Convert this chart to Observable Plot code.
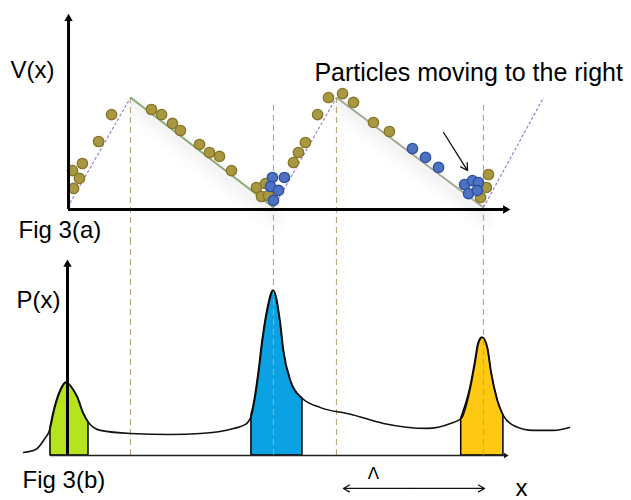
<!DOCTYPE html>
<html><head><meta charset="utf-8">
<script src="https://cdn.jsdelivr.net/npm/d3@7"></script>
<script src="https://cdn.jsdelivr.net/npm/@observablehq/plot@0.6"></script>
<style>
body{margin:0;background:#fff;}
#chart svg{display:block;}
</style>
</head><body><div id="chart"></div>
<script>
// ---------- data (x in units of the period Λ, V and P in arbitrary units) ----------
const potentialX = [0.019, 0.319, 1.000, 1.300, 2.000, 2.286];
const potentialV = [0, 1, 0, 1, 0, 1];
const fallColors = ["#8aab77", "#a2aa96"];

const wellX = [0.319, 1.000, 1.300, 2.000];
const wellTopV = [1.0, 0.93, 1.0, 0.93];

const goldX = [0.048,0.076,0.043,0.090,0.167,0.229,0.419,0.467,0.519,0.557,0.648,0.695,0.743,0.800,
  0.919,0.962,0.943,0.976,1.095,1.119,1.152,1.210,1.262,1.329,1.381,1.476,1.552,2.024,2.014,1.986];
const goldV = [0.173,0.264,0.336,0.400,0.600,0.845,0.891,0.845,0.764,0.700,0.573,0.500,0.464,0.336,
  0.182,0.218,0.100,0.109,0.409,0.500,0.591,0.845,1.000,1.036,0.955,0.773,0.691,0.300,0.182,0.091];
const blueX = [0.995,1.052,0.986,1.024,1.000,1.662,1.724,1.786,1.910,1.948,1.976,1.929,1.971];
const blueV = [0.273,0.273,0.191,0.155,0.064,0.536,0.455,0.364,0.209,0.245,0.227,0.127,0.155];

const densityX = [-0.190,-0.133,-0.095,-0.062,-0.048,-0.014,0.014,0.043,0.067,0.095,0.119,0.176,0.319,0.510,
  0.652,0.810,0.867,0.895,0.910,0.929,0.948,0.971,1.000,1.033,1.048,1.081,1.138,1.224,1.367,1.524,1.733,
  1.843,1.894,1.938,1.962,1.976,1.995,2.019,2.038,2.067,2.095,2.143,2.238,2.333,2.410];
const densityP = [0.018,0.036,0.091,0.170,0.255,0.394,0.442,0.406,0.352,0.255,0.200,0.152,0.133,0.127,
  0.133,0.164,0.188,0.242,0.333,0.497,0.697,0.879,1.000,0.800,0.636,0.455,0.345,0.290,0.250,0.194,0.164,
  0.194,0.224,0.412,0.576,0.679,0.715,0.655,0.497,0.333,0.242,0.182,0.152,0.152,0.170];

const bandLo = [-0.062, 0.895, 1.894];
const bandHi = [0.119, 1.138, 2.095];
const bandColors = ["#b5e31e", "#0aa2e2", "#ffc913"];

const font = "Liberation Sans, Arial, sans-serif";
const xDomain = [-0.300, 2.705];

// ---------- derived tables ----------
const verts = potentialX.map((x, i) => ({x, v: potentialV[i]}));
const segs = verts.slice(1).map((d, i) => ({x1: verts[i].x, y1: verts[i].v, x2: d.x, y2: d.v, rising: d.v > verts[i].v}));
const rising = segs.filter(s => s.rising);
const falling = segs.filter(s => !s.rising).map((s, i) => ({...s, c: fallColors[i]}));
const wells = wellX.map((x, i) => ({x, top: wellTopV[i]}));
const gold = goldX.map((x, i) => ({x, v: goldV[i]}));
const blue = blueX.map((x, i) => ({x, v: blueV[i]}));
const density = densityX.map((x, i) => ({x, p: densityP[i]}));

// axes extents (data units)
const topAxis = {x0: 0.024, v0: -0.018, xEnd: 2.105, vEnd: 1.718};
const botAxis = {x0: -0.062, xAxisPos: 0.019, xEnd: 2.105, pEnd: 1.158};

const shadow = (off, w, op) => Plot.link(falling, {x1: d => d.x1 + 0.02, y1: d => d.y1 - off, x2: "x2", y2: d => d.y2 - off,
  stroke: "#000", strokeOpacity: op, strokeWidth: w, strokeLinecap: "round"});

const panelA = Plot.plot({
  width: 631, height: 240, margin: 0,
  x: {domain: xDomain, axis: null},
  y: {domain: [-0.300, 1.882], axis: null},
  style: {fontFamily: font, background: "white", overflow: "visible"},
  marks: [
    shadow(0.10, 26, 0.012),
    shadow(0.08, 16, 0.014),
    shadow(0.06, 8, 0.016),
    Plot.ruleX(wells, {x: "x", y1: "top", y2: -0.300, stroke: "#b5a67c", strokeWidth: 1.1, strokeDasharray: "6,4"}),
    Plot.link(rising, {x1: "x1", y1: "y1", x2: "x2", y2: "y2", stroke: "#9b80d2", strokeWidth: 1.2, strokeDasharray: "3,2"}),
    Plot.link(falling, {x1: "x1", y1: "y1", x2: "x2", y2: "y2", stroke: "c", strokeWidth: 2}),
    Plot.dot(gold, {x: "x", y: "v", r: 5.2, fill: "#a99840", stroke: "#85752a", strokeWidth: 1.3}),
    Plot.dot(blue, {x: "x", y: "v", r: 5.2, fill: "#4d72c2", stroke: "#2d4f9e", strokeWidth: 1.3}),
    Plot.ruleX([topAxis], {x: "x0", y1: "v0", y2: "vEnd", stroke: "black", strokeWidth: 3}),
    Plot.ruleY([topAxis], {y: "v0", x1: "x0", x2: "xEnd", stroke: "black", strokeWidth: 3}),
    Plot.dot([topAxis], {x: "x0", y: "vEnd", symbol: "triangle2", r: 4, fill: "black"}),
    Plot.dot([topAxis], {x: "xEnd", y: "v0", symbol: "triangle2", r: 4, fill: "black", rotate: 90}),
    Plot.arrow([{x1: 1.810, y1: 0.682, x2: 1.924, y2: 0.336}], {x1: "x1", y1: "y1", x2: "x2", y2: "y2", stroke: "#111", strokeWidth: 1.3, headLength: 9}),
    Plot.text(["V(x)"], {x: -0.252, y: 1.245, textAnchor: "start", fontSize: 24, fill: "black"}),
    Plot.text(["Particles moving to the right"], {x: 1.195, y: 1.227, textAnchor: "start", fontSize: 25, fill: "black"}),
    Plot.text(["Fig 3(a)"], {x: -0.214, y: -0.209, textAnchor: "start", fontSize: 24, fill: "black"})
  ]
});

const panelB = Plot.plot({
  width: 631, height: 260, margin: 0,
  x: {domain: xDomain, axis: null},
  y: {domain: [-0.273, 1.303], axis: null},
  style: {fontFamily: font, background: "white", overflow: "visible"},
  marks: [
    ...bandLo.map((lo, i) => Plot.areaY(density.filter(d => d.x >= lo && d.x <= bandHi[i]),
      {x: "x", y: "p", curve: "monotone-x", fill: bandColors[i], stroke: "black", strokeWidth: 1.5})),
    Plot.ruleX(wells, {x: "x", y1: 0, y2: 1.303, stroke: "#b5a67c", strokeWidth: 1.1, strokeDasharray: "6,4"}),
    Plot.line(density, {x: "x", y: "p", curve: "monotone-x", stroke: "#111", strokeWidth: 1.6}),
    Plot.ruleY([botAxis], {y: 0, x1: "x0", x2: "xEnd", stroke: "#222", strokeWidth: 1.6}),
    Plot.dot([botAxis], {x: "xEnd", y: 0, symbol: "triangle2", r: 2.6, fill: "#111", rotate: 90}),
    Plot.ruleX([botAxis], {x: "xAxisPos", y1: 0, y2: "pEnd", stroke: "black", strokeWidth: 3}),
    Plot.dot([botAxis], {x: "xAxisPos", y: "pEnd", symbol: "triangle2", r: 4, fill: "black"}),
    Plot.arrow([{x1: 1.669, x2: 1.333}, {x1: 1.669, x2: 2.005}], {x1: "x1", x2: "x2", y1: -0.200, y2: -0.200, stroke: "#111", strokeWidth: 1.3, headLength: 8}),
    Plot.text(["Λ"], {x: 1.476, y: -0.109, fontSize: 17, fill: "black"}),
    Plot.text(["x"], {x: 2.152, y: -0.200, textAnchor: "start", fontSize: 24, fill: "black"}),
    Plot.text(["P(x)"], {x: -0.224, y: 0.939, textAnchor: "start", fontSize: 24, fill: "black"}),
    Plot.text(["Fig 3(b)"], {x: -0.195, y: -0.152, textAnchor: "start", fontSize: 24, fill: "black"})
  ]
});

document.getElementById("chart").append(panelA, panelB);
</script></body></html>
